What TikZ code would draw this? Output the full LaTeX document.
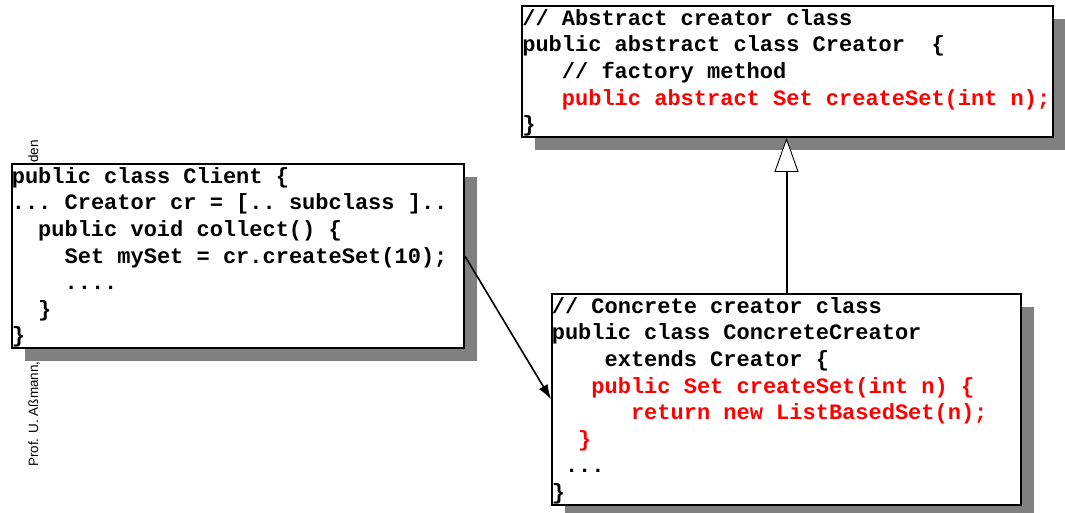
\documentclass[tikz,border=0pt]{standalone}
\usepackage{fontspec}
\setmonofont{Liberation Mono}
\newfontfamily\sidefont{Liberation Sans}
\usetikzlibrary{arrows.meta,shadows}
\definecolor{codered}{RGB}{255,0,0}
\definecolor{shadowgray}{RGB}{128,128,128}
% indentation by a number of monospace character cells
\newcommand\ind[1]{\hspace*{#1\dimexpr13.2pt\relax}}
% sets the first baseline of a code block
\newcommand\firstline{\rule{0pt}{20pt}}

\begin{document}
\begin{tikzpicture}[x=1pt,y=-1pt,
  classbox/.style={rectangle, draw=black, line width=1.8pt, fill=white, inner sep=0pt,
    drop shadow={shadow xshift=12.5pt, shadow yshift=-13pt, fill=shadowgray, opacity=1}},
  code/.style={anchor=north west, inner sep=0pt, align=left,
    font=\ttfamily\bfseries\fontsize{22}{26.6}\selectfont},
  sidetext/.style={rotate=90, inner sep=0pt, font=\sidefont\fontsize{13.5}{16}\selectfont},
  calls/.style={line width=1.6pt, -{Latex[length=15pt,width=10pt]}},
  inherits/.style={line width=2pt,
    -{Triangle[open, length=34pt, width=24pt, line width=0.9pt, fill=white]}}]

\useasboundingbox (0,0) rectangle (1065,512);

% footer text running up the left margin
\node[sidetext, anchor=base west] (author) at (38,467) {Prof. U. Aßmann,};
\node[sidetext, anchor=base east] (place) at (38,140) {den};

% class boxes
\node[classbox, minimum width=531pt, minimum height=131pt] (creator) at (787.5,71.5) {};
\node[classbox, minimum width=452pt, minimum height=184pt] (client) at (238,256) {};
\node[classbox, minimum width=469pt, minimum height=211pt] (concrete) at (786.5,399.5) {};

% code listings
\node[code] (creatortext) at ([xshift=1pt]creator.north west) {\firstline// Abstract creator class\\
public abstract class Creator\ind{2}\{\\
\ind{3}// factory method\\
\textcolor{codered}{\ind{3}public abstract Set createSet(int n);}\\
\}};

\node[code] (clienttext) at ([xshift=0.5pt]client.north west) {\firstline public class Client \{\\
... Creator cr = [.. subclass ]..\\
\ind{2}public void collect() \{\\
\ind{4}Set mySet = cr.createSet(10);\\
\ind{4}....\\
\ind{2}\}\\
\}};

\node[code] (concretetext) at ([xshift=0.5pt]concrete.north west) {\firstline// Concrete creator class\\
public class ConcreteCreator\\
\ind{4}extends Creator \{\\
\textcolor{codered}{\ind{3}public Set createSet(int n) \{}\\
\textcolor{codered}{\ind{6}return new ListBasedSet(n);}\\
\textcolor{codered}{\ind{2}\}}\\
\ind{1}...\\
\}};

% connectors
\draw[calls] (client.east) -- (concrete.west);
\draw[inherits] (concrete.north) -- (concrete.north |- creator.south);
\end{tikzpicture}
\end{document}
